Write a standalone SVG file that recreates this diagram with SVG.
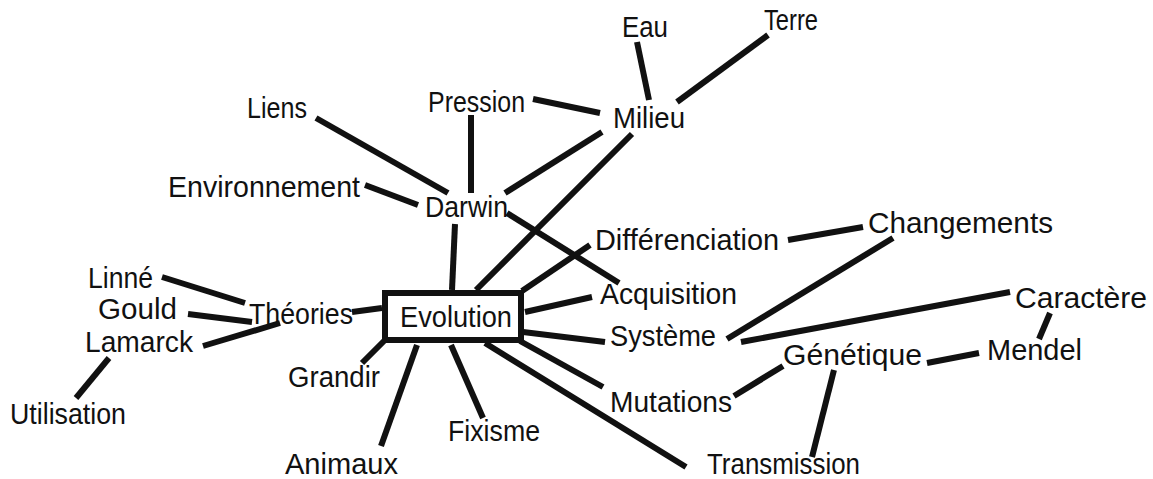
<svg xmlns="http://www.w3.org/2000/svg" width="1153" height="479" viewBox="0 0 1153 479">
<style>
.bg{fill:#fff}
.c line{stroke:#111;stroke-width:6;stroke-linecap:butt}
.n text{font-family:"Liberation Sans",Arial,sans-serif;font-size:29px;fill:#111}
.box{fill:#fff;stroke:#111;stroke-width:6}
</style>
<rect class="bg" width="1153" height="479"/>
<g id="connectors" class="c">
<line x1="637" y1="42" x2="649" y2="100"/>
<line x1="768" y1="35" x2="677" y2="102"/>
<line x1="533" y1="99" x2="600" y2="113"/>
<line x1="316" y1="118" x2="448" y2="193"/>
<line x1="471" y1="115" x2="471" y2="193"/>
<line x1="505" y1="193" x2="602" y2="132"/>
<line x1="365" y1="185" x2="418" y2="205"/>
<line x1="507" y1="213" x2="619" y2="283"/>
<line x1="452" y1="290" x2="455" y2="224"/>
<line x1="476" y1="290" x2="632" y2="134"/>
<line x1="522" y1="291" x2="590" y2="245"/>
<line x1="788" y1="240" x2="863" y2="227"/>
<line x1="525" y1="312" x2="592" y2="297"/>
<line x1="523" y1="332" x2="605" y2="342"/>
<line x1="727" y1="339" x2="893" y2="238"/>
<line x1="741" y1="342" x2="1010" y2="292"/>
<line x1="1050" y1="313" x2="1039" y2="339"/>
<line x1="927" y1="363" x2="979" y2="353"/>
<line x1="734" y1="396" x2="783" y2="366"/>
<line x1="834" y1="370" x2="812" y2="457"/>
<line x1="520" y1="341" x2="603" y2="387"/>
<line x1="485" y1="343" x2="686" y2="467"/>
<line x1="451" y1="345" x2="483" y2="418"/>
<line x1="417" y1="345" x2="381" y2="446"/>
<line x1="384" y1="341" x2="362" y2="363"/>
<line x1="382" y1="308" x2="352" y2="312"/>
<line x1="162" y1="277" x2="245" y2="303"/>
<line x1="188" y1="314" x2="252" y2="322"/>
<line x1="203" y1="346" x2="280" y2="323"/>
<line x1="109" y1="358" x2="76" y2="398"/>
</g>
<g id="evolution" class="n"><rect class="box" x="385" y="293" width="136" height="47"/><text x="400" y="327" textLength="112" lengthAdjust="spacingAndGlyphs">Evolution</text></g>
<g id="eau" class="n"><text x="622" y="37" textLength="46" lengthAdjust="spacingAndGlyphs">Eau</text></g>
<g id="terre" class="n"><text x="764" y="30" textLength="54" lengthAdjust="spacingAndGlyphs">Terre</text></g>
<g id="pression" class="n"><text x="428" y="112" textLength="97" lengthAdjust="spacingAndGlyphs">Pression</text></g>
<g id="milieu" class="n"><text x="613" y="128" textLength="72" lengthAdjust="spacingAndGlyphs">Milieu</text></g>
<g id="liens" class="n"><text x="247" y="118" textLength="60" lengthAdjust="spacingAndGlyphs">Liens</text></g>
<g id="environnement" class="n"><text x="168" y="197" textLength="192" lengthAdjust="spacingAndGlyphs">Environnement</text></g>
<g id="darwin" class="n"><text x="425" y="217" textLength="83" lengthAdjust="spacingAndGlyphs">Darwin</text></g>
<g id="differenciation" class="n"><text x="595" y="250" textLength="184" lengthAdjust="spacingAndGlyphs">Différenciation</text></g>
<g id="changements" class="n"><text x="868" y="233" textLength="185" lengthAdjust="spacingAndGlyphs">Changements</text></g>
<g id="linne" class="n"><text x="88" y="288" textLength="65" lengthAdjust="spacingAndGlyphs">Linné</text></g>
<g id="gould" class="n"><text x="98" y="319" textLength="79" lengthAdjust="spacingAndGlyphs">Gould</text></g>
<g id="theories" class="n"><text x="249" y="324" textLength="104" lengthAdjust="spacingAndGlyphs">Théories</text></g>
<g id="lamarck" class="n"><text x="85" y="352" textLength="108" lengthAdjust="spacingAndGlyphs">Lamarck</text></g>
<g id="acquisition" class="n"><text x="600" y="304" textLength="137" lengthAdjust="spacingAndGlyphs">Acquisition</text></g>
<g id="caractere" class="n"><text x="1015" y="308" textLength="132" lengthAdjust="spacingAndGlyphs">Caractère</text></g>
<g id="systeme" class="n"><text x="610" y="346" textLength="106" lengthAdjust="spacingAndGlyphs">Système</text></g>
<g id="mendel" class="n"><text x="987" y="360" textLength="95" lengthAdjust="spacingAndGlyphs">Mendel</text></g>
<g id="genetique" class="n"><text x="783" y="365" textLength="139" lengthAdjust="spacingAndGlyphs">Génétique</text></g>
<g id="grandir" class="n"><text x="288" y="387" textLength="92" lengthAdjust="spacingAndGlyphs">Grandir</text></g>
<g id="mutations" class="n"><text x="610" y="412" textLength="122" lengthAdjust="spacingAndGlyphs">Mutations</text></g>
<g id="utilisation" class="n"><text x="10" y="424" textLength="116" lengthAdjust="spacingAndGlyphs">Utilisation</text></g>
<g id="fixisme" class="n"><text x="448" y="441" textLength="92" lengthAdjust="spacingAndGlyphs">Fixisme</text></g>
<g id="animaux" class="n"><text x="285" y="474" textLength="113" lengthAdjust="spacingAndGlyphs">Animaux</text></g>
<g id="transmission" class="n"><text x="707" y="474" textLength="153" lengthAdjust="spacingAndGlyphs">Transmission</text></g>
</svg>
